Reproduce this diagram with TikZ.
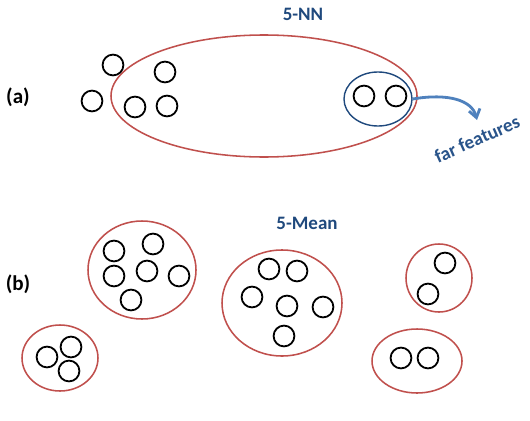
\documentclass[tikz,border=0pt]{standalone}
\usepackage{fontspec}
\setmainfont{Carlito}
\usetikzlibrary{arrows.meta,shapes.geometric}
\definecolor{cred}{RGB}{192,80,77}
\definecolor{cdark}{RGB}{31,73,125}
\definecolor{cbluel}{RGB}{79,129,189}
\tikzset{pt/.style={black, line width=1.3pt},
  grp/.style={cred, line width=1.1pt},
  ttl/.style={font=\bfseries\fontsize{13.5}{15}\selectfont, text=cdark},
  lbl/.style={font=\bfseries\fontsize{15}{17}\selectfont}}

\begin{document}
\begin{tikzpicture}[x=0.025cm, y=-0.025cm]
\useasboundingbox (0,0) rectangle (530,420);
% (a) 5-NN
\node[ttl] (nn) at (303,14) {5-NN};
\node[lbl] (la) at (18,97) {(a)};
\draw[grp] (264,96) ellipse [x radius=153, y radius=61];
\foreach \x/\y in {113/65, 165/72, 92/101, 135/107, 167/106, 364/96, 396/96}
  \draw[pt] (\x,\y) circle (0.26cm);
\node[draw=cdark, line width=1pt, ellipse, minimum width=1.7cm, minimum height=1.35cm, inner sep=0pt] (far) at (378,99) {};
\coordinate (tip) at (477,120);
\draw[cbluel, line width=2pt, -{Straight Barb[angle=70:7pt]}] (far.east) .. controls (448,93) and (472,100) .. (tip);
\node[ttl, text=cdark!80!cbluel, rotate=24] (ff) at (477,139) {far features};
% (b) 5-Mean
\node[ttl] (mean) at (307,223) {5-Mean};
\node[lbl] (lb) at (18,284) {(b)};
\draw[grp] (142,270) ellipse [x radius=54, y radius=49];
\draw[grp] (282,303) ellipse [x radius=60, y radius=53];
\draw[grp] (439,278) ellipse [x radius=33, y radius=34];
\draw[grp] (60,358) ellipse [x radius=38, y radius=33];
\draw[grp] (417,361) ellipse [x radius=45, y radius=32];
\foreach \x/\y in {114/251, 153/244, 114/276, 147/271, 179/276, 131/300,
    269/269, 297/271, 252/297, 287/306, 323/307, 284/336,
    445/263, 428/294, 47/357, 71/347, 69/371, 401/358, 428/358}
  \draw[pt] (\x,\y) circle (0.26cm);
\end{tikzpicture}
\end{document}
